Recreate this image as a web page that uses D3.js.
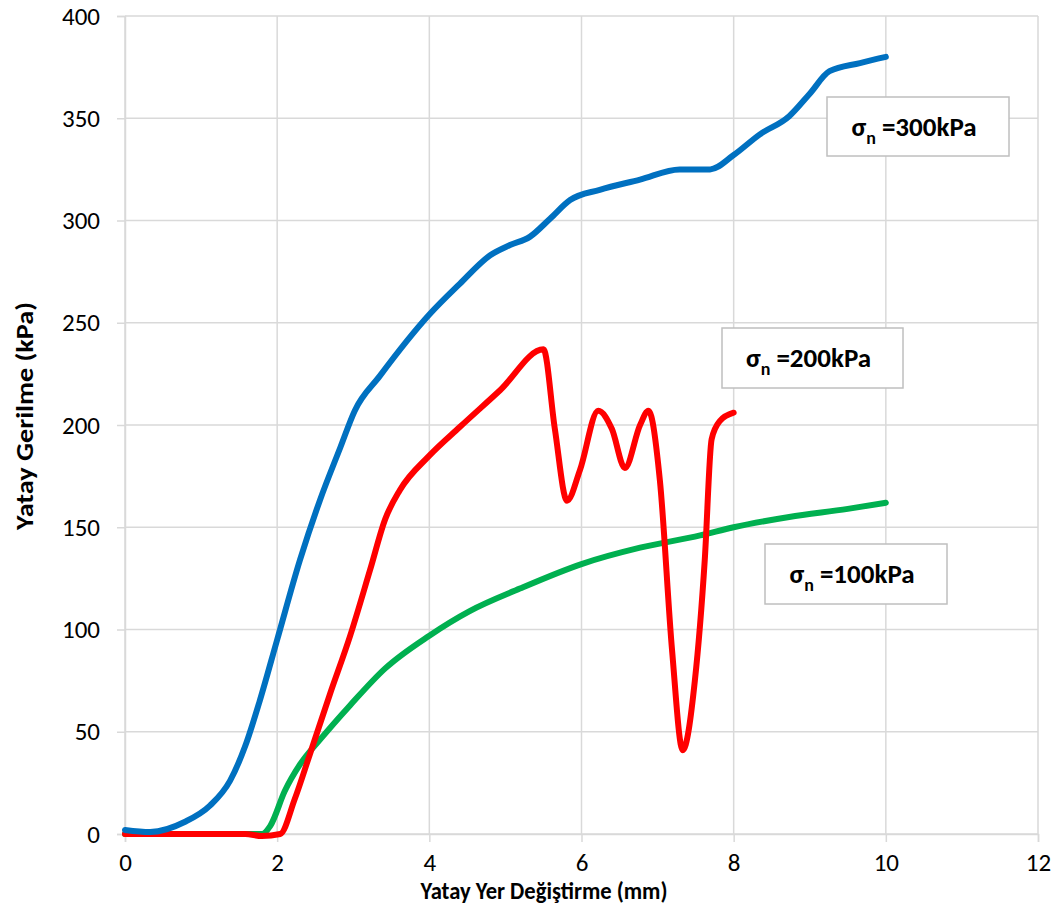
<!DOCTYPE html>
<html>
<head>
<meta charset="utf-8">
<script src="https://cdn.jsdelivr.net/npm/d3@7"></script>
<style>
  body { margin: 0; background: #fff; }
  text { font-family: Carlito, "Open Sans", sans-serif; }
</style>
</head>
<body>
<svg id="chart" width="1059" height="914"></svg>
<script>
// x in mm, y in kPa
var s300x = [0, 0.33, 0.79, 1.12, 1.38, 1.58, 1.77, 2.0, 2.3, 2.56, 2.83, 3.02, 3.35, 4.0, 4.4, 4.8, 5.06, 5.32, 5.59, 5.85, 6.24, 6.77, 7.29, 7.69, 8.0, 8.34, 8.73, 9.0, 9.26, 9.66, 10.0];
var s300y = [2, 1, 6, 14, 26, 43, 65, 95, 134, 163, 189, 207, 224, 254, 269, 283, 288, 292, 301, 310, 315, 320, 325, 325, 332, 342, 351, 362, 373, 377, 380];

var s200x = [0, 0.5, 1.0, 1.58, 1.8, 2.04, 2.23, 2.43, 2.69, 2.96, 3.22, 3.42, 3.61, 4.0, 4.4, 4.93, 5.5, 5.65, 5.81, 5.98, 6.22, 6.4, 6.57, 6.77, 6.88, 7.03, 7.19, 7.33, 7.49, 7.62, 7.71, 7.82, 8.0];
var s200y = [0, 0, 0, 0, -1, 0, 17, 39, 68, 97, 129, 154, 168, 185, 199, 217, 237, 198, 163, 178, 207, 198, 179, 200, 207, 173, 90, 41, 75, 134, 193, 202, 206];

var s100x = [0, 1.0, 1.8, 1.91, 2.1, 2.3, 2.56, 2.96, 3.42, 4.0, 4.53, 5.19, 6.0, 6.77, 7.56, 8.0, 8.73, 9.5, 10.0];
var s100y = [0, 0, 0, 4, 21, 34, 46, 63, 81, 97, 109, 120, 132, 140, 146, 150, 155, 159, 162];

var xTicks = [0, 2, 4, 6, 8, 10, 12];
var yTicks = [0, 50, 100, 150, 200, 250, 300, 350, 400];

var series = [
  {name: "100", xs: s100x, ys: s100y, color: "#00B050", box: [765, 544, 182, 60]},
  {name: "200", xs: s200x, ys: s200y, color: "#FF0000", box: [722, 328, 181, 60]},
  {name: "300", xs: s300x, ys: s300y, color: "#0070C0", box: [827, 97, 182, 59]}
];

var svg = d3.select("#chart");
var pLeft = 125, pRight = 1038, pTop = 16, pBottom = 834;

var x = d3.scaleLinear().domain([0, 12]).range([pLeft, pRight]);
var y = d3.scaleLinear().domain([0, 400]).range([pBottom, pTop]);

// gridlines
svg.append("g").selectAll("line").data(yTicks).join("line")
  .attr("x1", pLeft).attr("x2", pRight)
  .attr("y1", function(d) { return y(d); }).attr("y2", function(d) { return y(d); })
  .attr("stroke", "#d9d9d9").attr("stroke-width", 1.5);
svg.append("g").selectAll("line").data(xTicks).join("line")
  .attr("x1", function(d) { return x(d); }).attr("x2", function(d) { return x(d); })
  .attr("y1", pTop).attr("y2", pBottom)
  .attr("stroke", "#d9d9d9").attr("stroke-width", 1.5);

// axes
var xAxis = svg.append("g").attr("transform", "translate(0," + pBottom + ")")
  .call(d3.axisBottom(x).tickValues(xTicks).tickSize(8).tickPadding(11));
var yAxis = svg.append("g").attr("transform", "translate(" + pLeft + ",0)")
  .call(d3.axisLeft(y).tickValues(yTicks).tickSize(8).tickPadding(17));
[xAxis, yAxis].forEach(function(a) {
  a.selectAll("path, line").attr("stroke", "#d9d9d9").attr("stroke-width", 1.5);
  a.selectAll("text").attr("fill", "#000").style("font-size", "25px");
});

// series
var line = d3.line()
  .x(function(d) { return x(d[0]); })
  .y(function(d) { return y(d[1]); })
  .curve(d3.curveMonotoneX);

series.forEach(function(s) {
  var pts = d3.zip(s.xs, s.ys);
  svg.append("path").datum(pts)
    .attr("d", line)
    .attr("fill", "none")
    .attr("stroke", s.color)
    .attr("stroke-width", 6)
    .attr("stroke-linecap", "round")
    .attr("stroke-linejoin", "round");
});

// label boxes
series.forEach(function(s) {
  var b = s.box;
  var g = svg.append("g");
  g.append("rect").attr("x", b[0]).attr("y", b[1]).attr("width", b[2]).attr("height", b[3])
    .attr("fill", "#fff").attr("stroke", "#bfbfbf").attr("stroke-width", 1.5);
  var t = g.append("text")
    .attr("x", b[0] + b[2] / 2 - 4).attr("y", b[1] + b[3] / 2 + 9)
    .attr("text-anchor", "middle")
    .style("font-size", "27px").style("font-weight", "bold");
  t.append("tspan").text("σ");
  t.append("tspan").attr("dy", 8).style("font-size", "18px").text("n");
  t.append("tspan").attr("dy", -8).text(" =" + s.name + "kPa");
});

// axis titles
svg.append("text")
  .attr("x", 544).attr("y", 899)
  .attr("text-anchor", "middle")
  .attr("textLength", 247).attr("lengthAdjust", "spacingAndGlyphs")
  .style("font-size", "24px").style("font-weight", "bold")
  .text("Yatay Yer Değiştirme (mm)");

svg.append("text")
  .attr("transform", "translate(33,416) rotate(-90)")
  .attr("text-anchor", "middle")
  .attr("textLength", 228).attr("lengthAdjust", "spacingAndGlyphs")
  .style("font-size", "25px").style("font-weight", "bold")
  .text("Yatay Gerilme (kPa)");
</script>
</body>
</html>
